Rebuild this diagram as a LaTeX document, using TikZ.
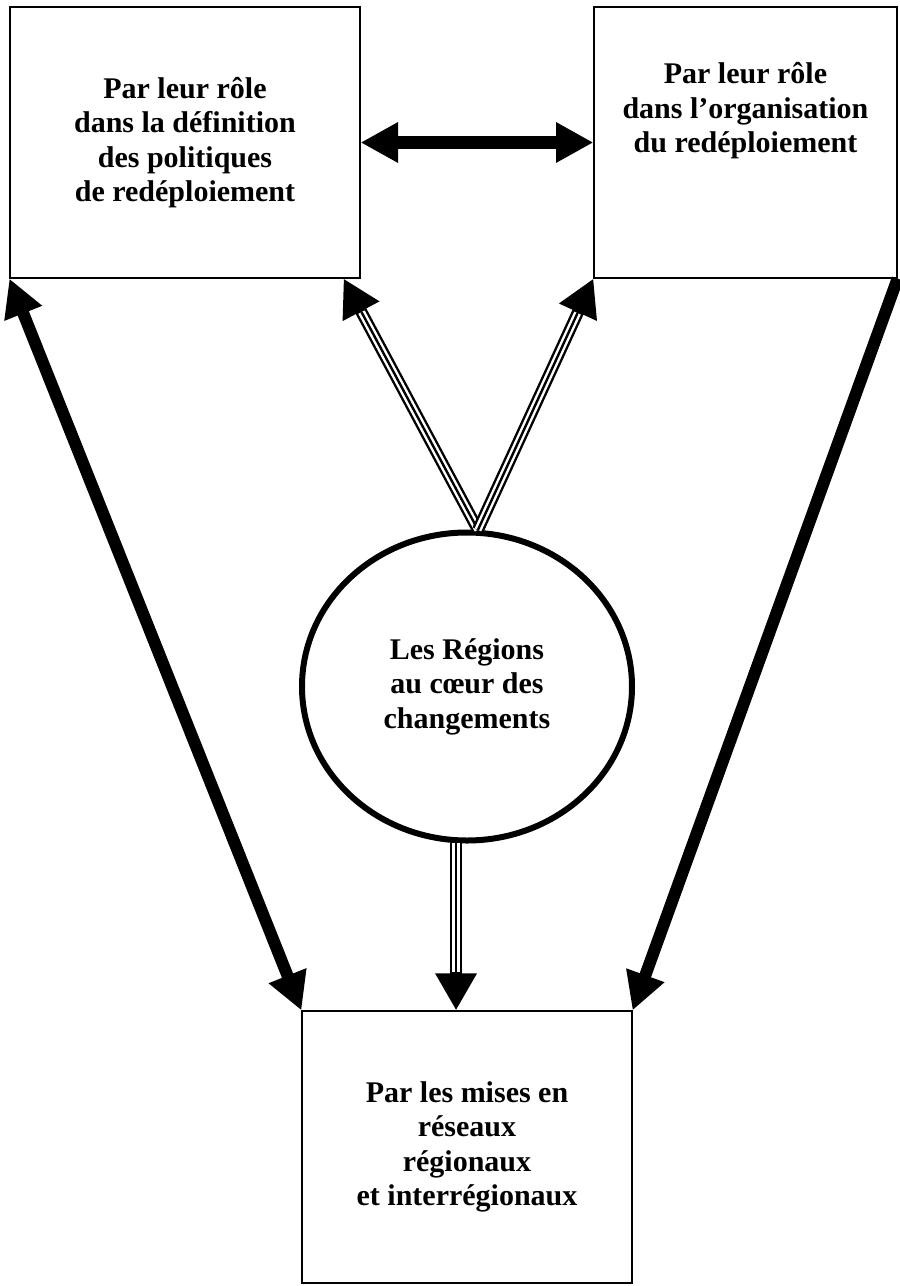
\documentclass[tikz,border=0pt]{standalone}
\usepackage{fontspec}
\setmainfont{Liberation Serif}
\usetikzlibrary{arrows.meta,shapes.geometric}

\tikzset{
  bighead/.tip={Triangle[length=18.7pt,width=19pt]},
  smallhead/.tip={Triangle[length=18.5pt,width=19.5pt]}
}

\begin{document}
\begin{tikzpicture}[x=0.5pt,y=-0.5pt,
    font=\fontsize{15}{17.25}\selectfont\bfseries,
    box/.style={draw,line width=0.6pt,inner sep=0pt,align=center},
    boxtext/.style={align=center,inner sep=0pt},
    bigarrow/.style={line width=6pt},
    tripleline/.style={line width=6pt,-smallhead,
      postaction={draw=white,line width=3.6pt,-,shorten >=19pt},
      postaction={draw=black,line width=1.2pt,-,shorten >=19pt}}]

  \useasboundingbox (0,0) rectangle (900,1286);

  % --- boxes ---
  \node[box,minimum width=175pt,minimum height=135.5pt] (politiques) at (185,142.5)
        {Par leur rôle\\dans la définition\\des politiques\\de redéploiement};
  \node[box,minimum width=151.5pt,minimum height=135.5pt] (organisation) at (745.5,142.5) {};
  \node[boxtext] (organisationtxt) at ([yshift=15.75pt]organisation.center)
        {Par leur rôle\\dans l’organisation\\du redéploiement};
  \node[box,minimum width=165pt,minimum height=136pt] (reseaux) at (467,1147)
        {Par les mises en\\réseaux\\régionaux\\et interrégionaux};

  % --- circle ---
  \node[draw,ellipse,line width=3pt,inner sep=0pt,align=center,
        minimum width=165pt,minimum height=154pt] (regions) at (467,686.5)
        {Les Régions\\au cœur des\\changements};

  % --- thick arrows ---
  \draw[bigarrow,line width=6.5pt,bighead-bighead] (politiques.east) -- (organisation.west);
  \draw[bigarrow,bighead-bighead] (politiques.south west) -- (reseaux.north west);
  \draw[bigarrow,-bighead] (organisation.south east) -- (reseaux.north east);

  % --- triple arrows ---
  \draw[tripleline] (regions.86) -- ([xshift=-8.5pt]politiques.south east);
  \draw[tripleline] (regions.86) -- (organisation.south west);
  \draw[tripleline] (regions.-94) -- (regions.-94 |- reseaux.north);

\end{tikzpicture}
\end{document}
